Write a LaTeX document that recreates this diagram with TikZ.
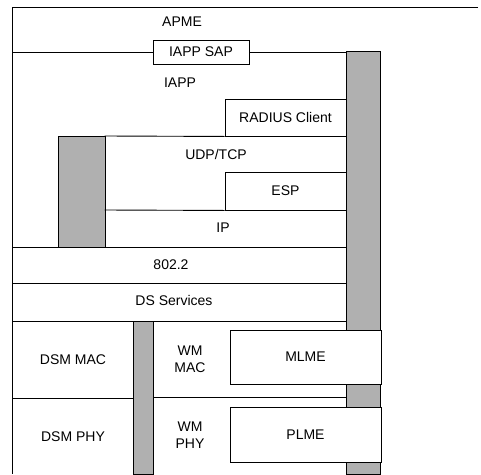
\documentclass[tikz,border=0pt]{standalone}
\usepackage{fontspec}
\setmainfont{Liberation Sans}
\begin{document}
\begin{tikzpicture}[x=1pt,y=-1pt, line width=0.9pt,
  lbl/.style={font=\fontsize{14}{17.5}\selectfont, align=center, inner sep=0pt},
  bar/.style={draw=black, fill=gray!62},
  box/.style={draw=black, fill=white, rectangle, inner sep=0pt, font=\fontsize{14}{17.5}\selectfont}]
\useasboundingbox (0,0) rectangle (481,474);
% outer frame
\draw (478,7) -- (12,7) -- (12,474);
% shaded bars
\draw[bar] (346,51) rectangle (380,474);
\draw[bar] (58,136) rectangle (105,247);
\draw[bar] (133,321) rectangle (153,474);
% layer boxes
\node[box, minimum width=96pt, minimum height=24pt] (sap) at (201,52) {IAPP SAP};
\node[box, minimum width=121pt, minimum height=37pt] (radius) at (285.5,117.5) {RADIUS Client};
\node[box, minimum width=121pt, minimum height=38pt] (esp) at (285.5,191) {ESP};
\node[box, minimum width=151pt, minimum height=54pt] (mlme) at (305.5,357) {MLME};
\node[box, minimum width=151pt, minimum height=55pt] (plme) at (305.5,434.5) {PLME};
% separating lines
\draw (12,52) -- (sap.west);
\draw (sap.east) -- (346,52);
\draw (104.5,136) -- (radius.south west);
\draw (104.5,210) -- (esp.south west);
\draw (12,247) -- (346,247);
\draw (12,283) -- (346,283);
\draw (12,321) -- (346,321);
\draw (12,398) -- (133,398);
\draw (153,397) -- (346,397);
% labels
\node[lbl] (apme) at (182,22) {APME};
\node[lbl] (iapp) at (180,83) {IAPP};
\node[lbl] (udp) at (216,154) {UDP/TCP};
\node[lbl] (ip) at (223,228) {IP};
\node[lbl] (llc) at (171,265) {802.2};
\node[lbl] (ds) at (174,300) {DS Services};
\node[lbl] (dsmmac) at (73,360) {DSM MAC};
\node[lbl] (wmmac) at (190,359) {WM\\MAC};
\node[lbl] (dsmphy) at (73,437) {DSM PHY};
\node[lbl] (wmphy) at (190,435) {WM\\PHY};
\end{tikzpicture}
\end{document}
